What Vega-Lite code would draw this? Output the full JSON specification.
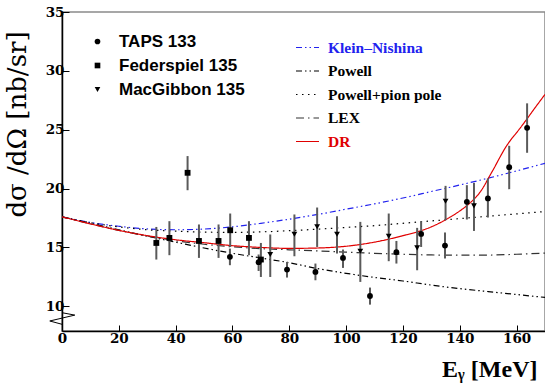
{
  "$schema": "https://vega.github.io/schema/vega-lite/v6.json",
  "width": 483,
  "height": 319,
  "autosize": {"type": "none"},
  "padding": {"left": 62, "top": 12, "right": 0, "bottom": 54},
  "background": "white",
  "config": {
    "view": {"stroke": "#8a8a8a", "strokeWidth": 1.5},
    "axis": {
      "domainColor": "black",
      "domainWidth": 1.5,
      "grid": false,
      "labelFont": "DejaVu Serif",
      "labelFontWeight": "bold",
      "labelFontSize": 13.5,
      "labelColor": "black",
      "labelFlush": false,
      "titleColor": "black"
    },
    "axisX": {
      "labelPadding": 6,
      "titleFont": "Liberation Serif",
      "titleFontWeight": "bold",
      "titleFontSize": 24,
      "titleAnchor": "end",
      "titleAlign": "right",
      "titleBaseline": "alphabetic",
      "titleX": 475,
      "titleY": 45
    },
    "axisY": {
      "labelPadding": 5,
      "titleFont": "DejaVu Serif",
      "titleFontWeight": "normal",
      "titleFontSize": 26,
      "titleAngle": -90,
      "titleAlign": "center",
      "titleBaseline": "middle",
      "titleX": -45,
      "titleY": 112
    }
  },
  "datasets": {
    "points": [
      {"series": "TAPS 133", "E": 59.1, "y": 14.2, "lo": 13.49, "hi": 14.9},
      {"series": "TAPS 133", "E": 69.2, "y": 13.75, "lo": 13.0, "hi": 14.4},
      {"series": "TAPS 133", "E": 79.2, "y": 13.12, "lo": 12.44, "hi": 13.77},
      {"series": "TAPS 133", "E": 89.2, "y": 12.92, "lo": 12.21, "hi": 13.63},
      {"series": "TAPS 133", "E": 98.9, "y": 14.11, "lo": 13.26, "hi": 14.82},
      {"series": "TAPS 133", "E": 108.4, "y": 10.87, "lo": 10.14, "hi": 11.59},
      {"series": "TAPS 133", "E": 117.7, "y": 14.6, "lo": 13.63, "hi": 15.55},
      {"series": "TAPS 133", "E": 126.4, "y": 16.15, "lo": 15.04, "hi": 17.23},
      {"series": "TAPS 133", "E": 134.8, "y": 15.16, "lo": 14.06, "hi": 16.27},
      {"series": "TAPS 133", "E": 142.5, "y": 18.87, "lo": 17.37, "hi": 20.29},
      {"series": "TAPS 133", "E": 149.9, "y": 19.16, "lo": 17.54, "hi": 20.86},
      {"series": "TAPS 133", "E": 157.4, "y": 21.82, "lo": 19.95, "hi": 23.63},
      {"series": "TAPS 133", "E": 163.7, "y": 25.16, "lo": 23.04, "hi": 27.24},
      {"series": "Federspiel 135", "E": 33.2, "y": 15.38, "lo": 13.97, "hi": 16.74},
      {"series": "Federspiel 135", "E": 37.8, "y": 15.81, "lo": 14.34, "hi": 17.23},
      {"series": "Federspiel 135", "E": 44.2, "y": 21.34, "lo": 19.86, "hi": 22.76},
      {"series": "Federspiel 135", "E": 48.2, "y": 15.55, "lo": 14.11, "hi": 16.95},
      {"series": "Federspiel 135", "E": 55.1, "y": 15.55, "lo": 14.11, "hi": 16.95},
      {"series": "Federspiel 135", "E": 59.2, "y": 16.46, "lo": 15.04, "hi": 17.88},
      {"series": "Federspiel 135", "E": 65.8, "y": 15.81, "lo": 14.34, "hi": 17.23},
      {"series": "Federspiel 135", "E": 70.0, "y": 13.97, "lo": 12.49, "hi": 15.38},
      {"series": "MacGibbon 135", "E": 73.3, "y": 14.4, "lo": 12.49, "hi": 16.1},
      {"series": "MacGibbon 135", "E": 81.8, "y": 16.12, "lo": 14.25, "hi": 17.8},
      {"series": "MacGibbon 135", "E": 89.8, "y": 16.75, "lo": 15.04, "hi": 18.39},
      {"series": "MacGibbon 135", "E": 96.8, "y": 16.12, "lo": 14.48, "hi": 17.65},
      {"series": "MacGibbon 135", "E": 105.0, "y": 14.68, "lo": 12.07, "hi": 17.17},
      {"series": "MacGibbon 135", "E": 115.0, "y": 15.95, "lo": 13.83, "hi": 17.88},
      {"series": "MacGibbon 135", "E": 125.0, "y": 14.96, "lo": 13.06, "hi": 16.66},
      {"series": "MacGibbon 135", "E": 135.0, "y": 18.93, "lo": 17.31, "hi": 20.23},
      {"series": "MacGibbon 135", "E": 145.0, "y": 18.53, "lo": 16.4, "hi": 20.48}
    ],
    "curves": [
      {"model": "Klein–Nishina", "E": 0, "y": 17.6},
      {"model": "Klein–Nishina", "E": 10, "y": 17.12},
      {"model": "Klein–Nishina", "E": 20, "y": 16.8},
      {"model": "Klein–Nishina", "E": 30, "y": 16.57},
      {"model": "Klein–Nishina", "E": 40, "y": 16.5},
      {"model": "Klein–Nishina", "E": 50, "y": 16.56},
      {"model": "Klein–Nishina", "E": 60, "y": 16.75},
      {"model": "Klein–Nishina", "E": 70, "y": 17.05},
      {"model": "Klein–Nishina", "E": 80, "y": 17.4},
      {"model": "Klein–Nishina", "E": 90, "y": 17.8},
      {"model": "Klein–Nishina", "E": 100, "y": 18.25},
      {"model": "Klein–Nishina", "E": 110, "y": 18.7},
      {"model": "Klein–Nishina", "E": 120, "y": 19.2},
      {"model": "Klein–Nishina", "E": 130, "y": 19.75},
      {"model": "Klein–Nishina", "E": 140, "y": 20.3},
      {"model": "Klein–Nishina", "E": 150, "y": 20.88},
      {"model": "Klein–Nishina", "E": 160, "y": 21.5},
      {"model": "Klein–Nishina", "E": 170, "y": 22.15},
      {"model": "Powell", "E": 0, "y": 17.6},
      {"model": "Powell", "E": 10, "y": 17.05},
      {"model": "Powell", "E": 20, "y": 16.5},
      {"model": "Powell", "E": 30, "y": 15.95},
      {"model": "Powell", "E": 40, "y": 15.45},
      {"model": "Powell", "E": 50, "y": 14.95},
      {"model": "Powell", "E": 60, "y": 14.5},
      {"model": "Powell", "E": 70, "y": 14.1},
      {"model": "Powell", "E": 80, "y": 13.7},
      {"model": "Powell", "E": 90, "y": 13.2},
      {"model": "Powell", "E": 100, "y": 12.8},
      {"model": "Powell", "E": 110, "y": 12.45},
      {"model": "Powell", "E": 120, "y": 12.15},
      {"model": "Powell", "E": 130, "y": 11.8},
      {"model": "Powell", "E": 140, "y": 11.5},
      {"model": "Powell", "E": 150, "y": 11.25},
      {"model": "Powell", "E": 160, "y": 11.0},
      {"model": "Powell", "E": 170, "y": 10.75},
      {"model": "Powell+pion pole", "E": 0, "y": 17.6},
      {"model": "Powell+pion pole", "E": 10, "y": 17.1},
      {"model": "Powell+pion pole", "E": 20, "y": 16.75},
      {"model": "Powell+pion pole", "E": 30, "y": 16.5},
      {"model": "Powell+pion pole", "E": 40, "y": 16.38},
      {"model": "Powell+pion pole", "E": 50, "y": 16.3},
      {"model": "Powell+pion pole", "E": 60, "y": 16.28},
      {"model": "Powell+pion pole", "E": 70, "y": 16.32},
      {"model": "Powell+pion pole", "E": 80, "y": 16.42},
      {"model": "Powell+pion pole", "E": 90, "y": 16.55},
      {"model": "Powell+pion pole", "E": 100, "y": 16.7},
      {"model": "Powell+pion pole", "E": 110, "y": 16.85},
      {"model": "Powell+pion pole", "E": 120, "y": 17.05},
      {"model": "Powell+pion pole", "E": 130, "y": 17.25},
      {"model": "Powell+pion pole", "E": 140, "y": 17.45},
      {"model": "Powell+pion pole", "E": 150, "y": 17.65},
      {"model": "Powell+pion pole", "E": 160, "y": 17.85},
      {"model": "Powell+pion pole", "E": 170, "y": 18.05},
      {"model": "LEX", "E": 0, "y": 17.6},
      {"model": "LEX", "E": 10, "y": 17.0},
      {"model": "LEX", "E": 20, "y": 16.45},
      {"model": "LEX", "E": 30, "y": 15.97},
      {"model": "LEX", "E": 40, "y": 15.57},
      {"model": "LEX", "E": 50, "y": 15.27},
      {"model": "LEX", "E": 60, "y": 15.05},
      {"model": "LEX", "E": 70, "y": 14.9},
      {"model": "LEX", "E": 80, "y": 14.8},
      {"model": "LEX", "E": 90, "y": 14.7},
      {"model": "LEX", "E": 100, "y": 14.6},
      {"model": "LEX", "E": 110, "y": 14.5},
      {"model": "LEX", "E": 120, "y": 14.42},
      {"model": "LEX", "E": 130, "y": 14.36},
      {"model": "LEX", "E": 140, "y": 14.34},
      {"model": "LEX", "E": 150, "y": 14.35},
      {"model": "LEX", "E": 160, "y": 14.42},
      {"model": "LEX", "E": 170, "y": 14.52},
      {"model": "DR", "E": 0, "y": 17.6},
      {"model": "DR", "E": 10, "y": 17.0},
      {"model": "DR", "E": 20, "y": 16.45},
      {"model": "DR", "E": 30, "y": 16.0},
      {"model": "DR", "E": 40, "y": 15.65},
      {"model": "DR", "E": 50, "y": 15.4},
      {"model": "DR", "E": 60, "y": 15.15},
      {"model": "DR", "E": 70, "y": 15.0},
      {"model": "DR", "E": 80, "y": 14.92},
      {"model": "DR", "E": 90, "y": 14.95},
      {"model": "DR", "E": 100, "y": 15.1},
      {"model": "DR", "E": 105, "y": 15.25},
      {"model": "DR", "E": 110, "y": 15.45},
      {"model": "DR", "E": 115, "y": 15.7},
      {"model": "DR", "E": 120, "y": 16.0},
      {"model": "DR", "E": 125, "y": 16.32},
      {"model": "DR", "E": 130, "y": 16.75},
      {"model": "DR", "E": 135, "y": 17.35},
      {"model": "DR", "E": 140, "y": 18.1},
      {"model": "DR", "E": 143, "y": 18.65},
      {"model": "DR", "E": 145, "y": 19.1},
      {"model": "DR", "E": 147, "y": 19.65},
      {"model": "DR", "E": 149, "y": 20.4},
      {"model": "DR", "E": 150, "y": 20.85},
      {"model": "DR", "E": 152, "y": 21.7},
      {"model": "DR", "E": 154, "y": 22.6},
      {"model": "DR", "E": 156, "y": 23.45},
      {"model": "DR", "E": 158, "y": 24.15},
      {"model": "DR", "E": 160, "y": 24.75},
      {"model": "DR", "E": 163, "y": 25.7},
      {"model": "DR", "E": 166, "y": 26.7},
      {"model": "DR", "E": 170, "y": 28.0}
    ],
    "zigzag": [
      {"k": 1, "E": 0.1, "y": 9.45},
      {"k": 2, "E": 4.5, "y": 9.25},
      {"k": 3, "E": -4.3, "y": 8.75},
      {"k": 4, "E": 0.3, "y": 8.45}
    ]
  },
  "layer": [
    {
      "data": {"name": "curves"},
      "mark": {"type": "line", "strokeWidth": 1.2, "interpolate": "monotone", "clip": true},
      "encoding": {
        "x": {
          "field": "E", "type": "quantitative",
          "scale": {"domain": [0, 170], "nice": false, "zero": false},
          "axis": {
            "values": [0,5,10,15,20,25,30,35,40,45,50,55,60,65,70,75,80,85,90,95,100,105,110,115,120,125,130,135,140,145,150,155,160,165,170],
            "labelExpr": "datum.value % 20 === 0 && datum.value < 170 ? datum.label : ''",
            "ticks": true,
            "tickColor": "black",
            "tickWidth": 1,
            "tickSize": {"condition": {"test": "datum.value % 20 === 0", "value": -6}, "value": -3},
            "title": "Eᵧ  [MeV]"
          }
        },
        "y": {
          "field": "y", "type": "quantitative",
          "scale": {"domain": [7.9, 35], "nice": false, "zero": false},
          "axis": {
            "values": [10, 15, 20, 25, 30, 35],
            "ticks": true,
            "tickColor": "black",
            "tickWidth": 1,
            "tickSize": -7,
            "title": "dσ /dΩ [nb/sr]"
          }
        },
        "color": {
          "field": "model", "type": "nominal",
          "scale": {
            "domain": ["Klein–Nishina", "Powell", "Powell+pion pole", "LEX", "DR"],
            "range": ["#2222ee", "black", "black", "#333333", "#e00000"]
          },
          "legend": {
            "title": null,
            "orient": "none",
            "legendX": 233,
            "legendY": 23,
            "padding": 0,
            "symbolType": "stroke",
            "symbolSize": 529,
            "symbolStrokeWidth": 1.2,
            "labelFont": "Liberation Serif",
            "labelFontWeight": "bold",
            "labelFontSize": 15.5,
            "labelOffset": 8,
            "rowPadding": 2.5,
            "encode": {
              "labels": {
                "update": {
                  "fill": {"signal": "datum.value === 'DR' ? '#e00000' : datum.value === 'Klein–Nishina' ? '#2222ee' : 'black'"}
                }
              }
            }
          }
        },
        "strokeDash": {
          "field": "model", "type": "nominal",
          "scale": {
            "domain": ["Klein–Nishina", "Powell", "Powell+pion pole", "LEX", "DR"],
            "range": [[6, 3, 1.5, 3, 1.5, 3], [6, 3, 1.5, 3, 1.5, 3], [1.5, 4.5], [8, 4, 1.5, 4], [1, 0]]
          },
          "legend": null
        }
      }
    },
    {
      "data": {"name": "points"},
      "mark": {"type": "rule", "color": "#5a5a5a", "strokeWidth": 2},
      "encoding": {
        "x": {"field": "E", "type": "quantitative"},
        "y": {"field": "lo", "type": "quantitative"},
        "y2": {"field": "hi"}
      }
    },
    {
      "data": {"name": "points"},
      "mark": {"type": "point", "filled": true, "color": "black", "opacity": 1},
      "encoding": {
        "x": {"field": "E", "type": "quantitative"},
        "y": {"field": "y", "type": "quantitative"},
        "shape": {
          "field": "series", "type": "nominal",
          "scale": {
            "domain": ["TAPS 133", "Federspiel 135", "MacGibbon 135"],
            "range": ["circle", "square", "triangle-down"]
          },
          "legend": {
            "title": null,
            "orient": "none",
            "legendX": 27,
            "legendY": 21,
            "padding": 0,
            "symbolSize": 32,
            "symbolFillColor": "black",
            "symbolStrokeColor": "black",
            "labelFont": "Liberation Sans",
            "labelFontWeight": "bold",
            "labelFontSize": 17,
            "labelOffset": 13,
            "rowPadding": 6
          }
        },
        "size": {"value": 34}
      }
    },
    {
      "data": {"name": "zigzag"},
      "mark": {"type": "line", "color": "black", "strokeWidth": 1, "clip": false},
      "encoding": {
        "x": {"field": "E", "type": "quantitative"},
        "y": {"field": "y", "type": "quantitative"},
        "order": {"field": "k", "type": "quantitative"}
      }
    }
  ]
}
